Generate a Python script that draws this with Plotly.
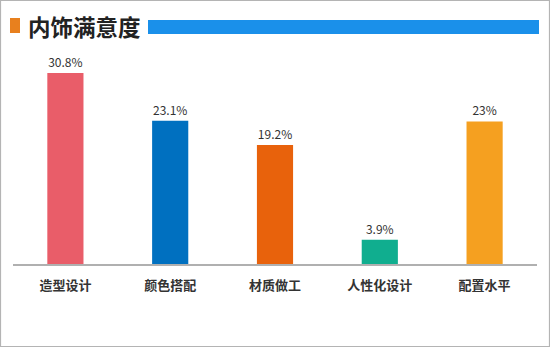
import plotly.graph_objects as go

categories = ["造型设计", "颜色搭配", "材质做工", "人性化设计", "配置水平"]
values = [30.8, 23.1, 19.2, 3.9, 23.0]
value_labels = ["30.8%", "23.1%", "19.2%", "3.9%", "23%"]
colors = ["#e95d69", "#0070c0", "#e8620c", "#10ae8f", "#f5a020"]
title_text = "内饰满意度"

W, H = 550, 347
FONT = "Noto Sans CJK SC"
PL, PT, PW, PH = 13, 47, 524, 217


def px(x):
    return (x - PL) / PW


def py(y):
    return (PT + PH - y) / PH


fig = go.Figure(go.Bar(
    x=categories, y=values,
    marker=dict(color=colors, line=dict(width=0)),
    text=value_labels, textposition="outside",
    textfont=dict(family=FONT, size=12, color="#333333"),
    cliponaxis=False, width=0.345,
))

fig.update_layout(
    width=W, height=H,
    margin=dict(l=PL, r=W - PL - PW, t=PT, b=H - PT - PH),
    paper_bgcolor="white", plot_bgcolor="white",
    showlegend=False,
    xaxis=dict(showgrid=False, showline=True, linecolor="#b0b0b0", linewidth=1.5,
               ticks="", ticklabelstandoff=9,
               tickfont=dict(family=FONT, size=13, color="#333333", weight="bold")),
    yaxis=dict(range=[0, 35], visible=False, showgrid=False, zeroline=False),
    shapes=[
        dict(type="rect", xref="paper", yref="paper",
             x0=px(0.5), x1=px(549.5), y0=py(346.5), y1=py(0.5),
             line=dict(color="#b4b4b4", width=1.2), layer="above"),
        dict(type="rect", xref="paper", yref="paper",
             x0=px(10), x1=px(20), y0=py(33), y1=py(18),
             fillcolor="#e8801e", line=dict(width=0)),
        dict(type="rect", xref="paper", yref="paper",
             x0=px(148), x1=px(539), y0=py(34), y1=py(20),
             fillcolor="#1a90ea", line=dict(width=0)),
    ],
    annotations=[
        dict(text=title_text, xref="paper", yref="paper",
             x=px(25.5), y=py(26), xanchor="left", yanchor="middle",
             showarrow=False,
             font=dict(family=FONT, size=22.5, color="#222222", weight="bold")),
    ],
)

fig.write_html("out.html")
